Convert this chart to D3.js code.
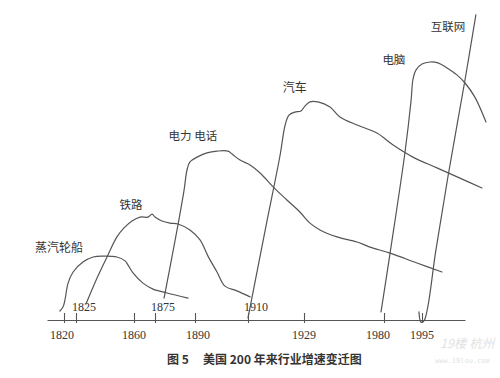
<!DOCTYPE html>
<html><head><meta charset="utf-8">
<script src="https://cdn.jsdelivr.net/npm/d3@7/dist/d3.min.js"></script>
<style>
html,body{margin:0;padding:0;background:#fff;}
svg{display:block;}
</style></head>
<body>
<script>
// ---- data ----
const ticksBelow = [1820, 1860, 1890, 1929, 1980, 1995];
const ticksAbove = [1825, 1875, 1910];
const axisYears = [1810, 1820, 1825, 1860, 1875, 1890, 1910, 1929, 1980, 1995, 2012];

const steamship = [[1817.6,3.0],[1819.4,4.3],[1820.4,6.7],[1821.7,12.3],[1823.8,16],[1829.2,19.3],[1835.3,21],[1841.3,21.3],[1849.7,21],[1854.6,19.7],[1856.4,18.3],[1859.4,15.7],[1866.4,12.3],[1873.6,10.3],[1879.5,9],[1887.4,7.3]];
const railway = [[1831.0,5.3],[1837.7,14],[1843.7,21],[1849.7,27.7],[1854.0,30.7],[1858.8,33],[1864.3,34.3],[1870.0,34.3],[1872.9,35.3],[1875.0,34.3],[1877.6,33],[1880.6,32.3],[1883.6,32],[1888.1,30],[1891.9,26.7],[1894.9,21.3],[1898.3,16],[1901.3,11.3],[1905.8,9.7],[1910.7,7.7]];
const electricity = [[1878.4,7.3],[1883.2,29.7],[1885.9,43.3],[1887.0,50],[1888.1,52.7],[1890.8,54.3],[1894.5,55.7],[1898.3,56.3],[1902.5,56.3],[1904.0,55.3],[1907.0,53.3],[1910.7,51.7],[1914.1,49],[1919.2,43.7],[1923.2,40],[1927.6,36],[1932.8,32.3],[1939.2,30],[1950.0,27.7],[1962.8,26],[1971.1,24.3],[1982.4,22.3],[1993.0,19],[2002.9,16]];
const automobile = [[1910.0,0.7],[1916.1,31.3],[1920.9,55],[1922.6,65],[1923.9,68.3],[1925.9,69.3],[1928.0,69.7],[1929.6,71.3],[1932.8,72.7],[1937.9,72.7],[1945.6,71],[1951.9,67.7],[1962.8,65],[1975.5,62.3],[1983.6,58.3],[1991.4,54.3],[2000.9,50.7],[2010.0,47.3],[2018.7,44]];
const computer = [[1978.1,2.7],[1982.4,22.3],[1988.3,56],[1990.7,73.3],[1991.4,80],[1992.6,83.3],[1995.0,85.3],[1998.2,86],[2001.3,85.7],[2004.9,84],[2008.8,81.7],[2012.0,79],[2015.9,74.3],[2020.3,66]];
const internet = [[1993.8,2.7],[1994.6,-0.7],[1995.8,-0.3],[2000.5,23.3],[2005.3,48],[2012.0,80],[2016.3,101.7]];

const seriesNames = ["蒸汽轮船","铁路","电力 电话","汽车","电脑","互联网"];
const labelAnchors = [[1817.1,24],[1858.2,38.3],[1889.2,61.3],[1925.9,77.3],[1983.9,86.7],[2005.3,97.7]];
const caption1 = "图 5";
const caption2 = "美国 200 年来行业增速变迁图";

// ---- chart ----
const W = 500, H = 378;
const svg = d3.select("body").append("svg").attr("width", W).attr("height", H);

const x = d3.scaleLinear().domain(axisYears)
  .range([47, 64, 76, 134, 155, 195, 248, 304, 384, 422, 465]);
const y = d3.scaleLinear().domain([0, 100]).range([320, 20]);

const lineColor = "#555";
const textColor = "#333";
const serif = "'Liberation Serif','Times New Roman',serif";
const cjk = "'Noto Sans CJK SC','Noto Sans',sans-serif";

// axis
const axisG = svg.append("g").attr("transform", `translate(0,${y(0)})`)
  .call(d3.axisBottom(x).tickValues(ticksBelow.concat(ticksAbove).sort()).tickSizeOuter(0).tickFormat(""));
axisG.select(".domain").attr("stroke", lineColor).attr("stroke-width", 1.1);
axisG.selectAll(".tick line").attr("stroke", lineColor).attr("stroke-width", 1.1).attr("y1", -7).attr("y2", 3);

svg.append("g").selectAll("text").data(ticksBelow).join("text")
  .attr("x", d => x(d) + (d === 1980 ? -6 : (d === 1890 ? 3 : (d===1820?-2:0))))
  .attr("y", y(0) + 19)
  .attr("text-anchor", "middle")
  .attr("font-family", serif).attr("font-size", 12).attr("fill", textColor)
  .text(d => d);

svg.append("g").selectAll("text").data(ticksAbove).join("text")
  .attr("x", d => x(d) + 8)
  .attr("y", y(0) - 9)
  .attr("text-anchor", "middle")
  .attr("font-family", serif).attr("font-size", 12).attr("fill", textColor)
  .text(d => d);

// curves
const line = d3.line().x(d => x(d[0])).y(d => y(d[1])).curve(d3.curveCatmullRom.alpha(0.5));
const allSeries = [steamship, railway, electricity, automobile, computer, internet];
svg.append("g").selectAll("path").data(allSeries).join("path")
  .attr("d", line)
  .attr("fill", "none").attr("stroke", lineColor).attr("stroke-width", 1.2)
  .attr("stroke-linejoin", "round").attr("stroke-linecap", "round");

// labels
svg.append("g").selectAll("text").data(seriesNames).join("text")
  .attr("x", (d, i) => x(labelAnchors[i][0]))
  .attr("y", (d, i) => y(labelAnchors[i][1]))
  .attr("dy", "0.35em")
  .attr("text-anchor", "middle")
  .attr("font-family", cjk).attr("font-size", (d, i) => (i === 0 || i === 3) ? 12 : 11.5)
  .attr("fill", textColor)
  .text(d => d);

// caption
const cap = svg.append("text").attr("y", 364).attr("font-family", cjk)
  .attr("font-size", 12).attr("font-weight", "bold").attr("fill", "#333");
cap.append("tspan").attr("x", 167).text(caption1);
cap.append("tspan").attr("x", 203).text(caption2);

// watermark
svg.append("text").attr("x", 440).attr("y", 348).attr("font-family", cjk)
  .attr("font-size", 12.5).attr("fill", "#e2e2e2").attr("font-style", "italic").text("19楼 杭州");
svg.append("text").attr("x", 435).attr("y", 363).attr("font-family", "'DejaVu Sans Mono',monospace")
  .attr("font-size", 7).attr("fill", "#e2e2e2").text("www.19lou.com");
</script>
</body></html>
